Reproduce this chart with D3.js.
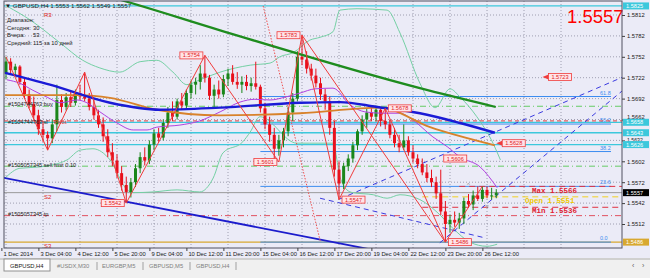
<!DOCTYPE html>
<html><head><meta charset="utf-8">
<script src="https://cdn.jsdelivr.net/npm/d3@7"></script>
<style>body{margin:0;background:#fff}svg{display:block;font-family:"Liberation Sans",Arial,sans-serif}</style>
</head><body><svg id="c" width="650" height="278"></svg>
<script>
// ---------- DATA ----------
const opens=[1.5728,1.5745,1.5733,1.5738,1.5716,1.5698,1.5684,1.5668,1.5648,1.5640,1.5635,1.5655,1.5690,1.5680,1.5694,1.5686,1.5700,1.5695,1.5692,1.5680,1.5668,1.5655,1.5638,1.5615,1.5603,1.5585,1.5568,1.5558,1.5572,1.5592,1.5608,1.5603,1.5626,1.5642,1.5636,1.5657,1.5672,1.5666,1.5688,1.5682,1.5700,1.5712,1.5716,1.5728,1.5722,1.5696,1.5705,1.5698,1.5720,1.5728,1.5716,1.5712,1.5716,1.5710,1.5714,1.5709,1.5678,1.5655,1.5640,1.5620,1.5632,1.5645,1.5672,1.5692,1.5752,1.5748,1.5735,1.5725,1.5714,1.5698,1.5688,1.5650,1.5590,1.5570,1.5595,1.5606,1.5625,1.5645,1.5662,1.5672,1.5666,1.5676,1.5660,1.5655,1.5640,1.5628,1.5622,1.5632,1.5615,1.5606,1.5598,1.5586,1.5578,1.5572,1.5556,1.5530,1.5512,1.5518,1.5514,1.5520,1.5545,1.5540,1.5553,1.5548,1.5561,1.5553,1.5553];
const highs=[1.5752,1.5750,1.5742,1.5740,1.5722,1.5705,1.5695,1.5676,1.5660,1.5645,1.5662,1.5712,1.5698,1.5700,1.5702,1.5705,1.5712,1.5730,1.5700,1.5690,1.5676,1.5665,1.5648,1.5628,1.5612,1.5595,1.5580,1.5578,1.5598,1.5615,1.5622,1.5632,1.5648,1.5650,1.5662,1.5680,1.5688,1.5692,1.5700,1.5705,1.5718,1.5722,1.5740,1.5754,1.5726,1.5712,1.5718,1.5726,1.5735,1.5740,1.5730,1.5724,1.5726,1.5722,1.5745,1.5712,1.5686,1.5666,1.5650,1.5640,1.5650,1.5680,1.5700,1.5760,1.5783,1.5760,1.5742,1.5735,1.5722,1.5706,1.5695,1.5660,1.5602,1.5600,1.5612,1.5630,1.5648,1.5668,1.5678,1.5680,1.5682,1.5678,1.5678,1.5662,1.5650,1.5640,1.5655,1.5638,1.5625,1.5612,1.5606,1.5598,1.5590,1.5580,1.5590,1.5545,1.5525,1.5530,1.5528,1.5550,1.5555,1.5560,1.5566,1.5566,1.5566,1.5564,1.5562];
const lows=[1.5720,1.5728,1.5725,1.5712,1.5692,1.5678,1.5662,1.5640,1.5630,1.5618,1.5628,1.5645,1.5672,1.5675,1.5680,1.5682,1.5690,1.5688,1.5675,1.5662,1.5650,1.5630,1.5608,1.5595,1.5578,1.5560,1.5542,1.5550,1.5565,1.5585,1.5596,1.5598,1.5618,1.5630,1.5632,1.5650,1.5660,1.5662,1.5676,1.5678,1.5692,1.5698,1.5705,1.5715,1.5690,1.5680,1.5692,1.5694,1.5710,1.5712,1.5706,1.5700,1.5704,1.5702,1.5705,1.5672,1.5648,1.5630,1.5601,1.5610,1.5622,1.5638,1.5660,1.5688,1.5740,1.5728,1.5718,1.5708,1.5690,1.5676,1.5640,1.5580,1.5547,1.5562,1.5588,1.5600,1.5618,1.5640,1.5650,1.5660,1.5660,1.5652,1.5648,1.5635,1.5622,1.5615,1.5618,1.5610,1.5600,1.5592,1.5582,1.5572,1.5565,1.5548,1.5525,1.5486,1.5500,1.5508,1.5505,1.5512,1.5535,1.5532,1.5545,1.5544,1.5549,1.5547,1.5549];
const closes=[1.5745,1.5733,1.5738,1.5716,1.5698,1.5684,1.5668,1.5648,1.5640,1.5635,1.5655,1.5690,1.5680,1.5694,1.5686,1.5700,1.5695,1.5692,1.5680,1.5668,1.5655,1.5638,1.5615,1.5603,1.5585,1.5568,1.5558,1.5572,1.5592,1.5608,1.5603,1.5626,1.5642,1.5636,1.5657,1.5672,1.5666,1.5688,1.5682,1.5700,1.5712,1.5716,1.5728,1.5722,1.5696,1.5705,1.5698,1.5720,1.5728,1.5716,1.5712,1.5716,1.5710,1.5714,1.5709,1.5678,1.5655,1.5640,1.5620,1.5632,1.5645,1.5672,1.5692,1.5752,1.5748,1.5735,1.5725,1.5714,1.5698,1.5688,1.5650,1.5590,1.5570,1.5595,1.5606,1.5625,1.5645,1.5662,1.5672,1.5666,1.5676,1.5660,1.5655,1.5640,1.5628,1.5622,1.5632,1.5615,1.5606,1.5598,1.5586,1.5578,1.5572,1.5556,1.5530,1.5512,1.5518,1.5514,1.5520,1.5545,1.5540,1.5553,1.5548,1.5561,1.5553,1.5553,1.5557];

const timeLabels=["1 Dec 2014","3 Dec 04:00","4 Dec 12:00","5 Dec 20:00","9 Dec 04:00","10 Dec 12:00","11 Dec 20:00","15 Dec 04:00","16 Dec 12:00","17 Dec 20:00","19 Dec 04:00","22 Dec 12:00","23 Dec 20:00","26 Dec 12:00"];
const priceTicks=[1.5812,1.5782,1.5752,1.5722,1.5692,1.5662,1.5632,1.5602,1.5572,1.5542,1.5512];

// indicator lines: [bar index, price]
const maBlue=[[-0.2,1.5729],[9.5,1.5712],[22.5,1.5686],[33.3,1.5676],[46.3,1.5679],[63.6,1.5686],[72.2,1.5687],[80.2,1.5680],[89.5,1.5671],[98.2,1.5657],[105.7,1.5643]];
const maOrange=[[-0.2,1.5697],[16,1.5697],[22.5,1.5693],[32.6,1.5676],[46.3,1.5668],[63.6,1.5671],[80.9,1.5679],[91.7,1.5651],[105.7,1.5625]];
const maGreen=[[20.3,1.5842],[24.6,1.5834],[46.3,1.5790],[89.5,1.5707],[105.9,1.5680]];
const maPurple=[[0.2,1.5719],[3,1.5714],[5.8,1.5704],[8.9,1.5694],[11.7,1.5686],[15.4,1.5690],[17.5,1.5686],[20.3,1.5673],[24,1.5657],[27.5,1.5647],[30.5,1.5647],[32.6,1.5651],[37.6,1.5654],[41.9,1.5660],[46.3,1.5673],[50.6,1.5687],[53.8,1.5691],[57.1,1.5690],[60.3,1.5694],[63.6,1.5700],[66.8,1.5706],[70.7,1.5707],[74.4,1.5683],[77.6,1.5673],[81.5,1.5671],[85.2,1.5671],[88,1.5661],[92.3,1.5637],[95.4,1.5623],[98.2,1.5608],[102.5,1.5594],[106.2,1.5564]];
const bbUpper=[[0.4,1.5824],[5.2,1.5805],[11.7,1.5772],[16.6,1.5747],[20.3,1.5736],[24.6,1.5730],[29,1.5745],[32.6,1.5747],[36.1,1.5730],[39.1,1.5712],[41.9,1.5719],[46.3,1.5730],[52.8,1.5740],[57.1,1.5743],[59.2,1.5752],[62.1,1.5758],[65.7,1.5776],[67.9,1.5780],[70.7,1.5788],[72.2,1.5819],[75.9,1.5821],[82.4,1.5819],[85.2,1.5786],[89.5,1.5714],[92.8,1.5679],[96,1.5706],[98.2,1.5694],[101.8,1.5666],[105.3,1.5628],[106.9,1.5604]];
const bbLower=[[-0.2,1.5578],[3,1.5592],[7.4,1.5594],[13.2,1.5604],[16,1.5618],[18.8,1.5620],[22.5,1.5604],[26.2,1.5561],[27.5,1.5557],[31.8,1.5558],[37,1.5561],[41.9,1.5558],[44.8,1.5578],[46.9,1.5614],[51.2,1.5630],[52.8,1.5644],[54.9,1.5666],[62.9,1.5628],[65.7,1.5628],[70.7,1.5628],[72.2,1.5580],[73.7,1.5561],[75,1.5557],[79.4,1.5554],[82.4,1.5549],[85.2,1.5554],[89.5,1.5547],[93.2,1.5529],[96.6,1.5506],[100.3,1.5486],[104,1.5480],[106.2,1.5483]];

const zigzag=[[0,1.5752],[9,1.5618],[17,1.5730],[26,1.5542],[43,1.5754],[59,1.5601],[64,1.5783],[72,1.5547],[82,1.5678],[95,1.5486],[103,1.5566]];
const zigzagLong=[[64,1.5783],[95,1.5486]];
// price tags: text, bar index, price, side
const tags=[["1.5754",43,1.5754,"L"],["1.5783",64,1.5783,"L"],["1.5601",59,1.5601,"L"],["1.5547",72,1.5547,"R"],["1.5542",26,1.5542,"L"],["1.5678",82,1.5678,"R"],["1.5606",94,1.5606,"R"],["1.5486",95,1.5486,"R"],["1.5628",106,1.5628,"P"],["1.5723",116,1.5723,"P"]];

// trend lines [i1,p1,i2,p2]
const trendSolidBlue=[-1,1.5579,80,1.5474];
const trendDashBlue=[[72.2,1.5548,133.4,1.5723],[93.8,1.5485,133.4,1.5704],[67.9,1.5549,103.6,1.5492]];
const trendRedDotted=[55.6,1.5825,68,1.5486];

// horizontal levels
const cyanLevels=[1.5825,1.5658,1.5643,1.5626];
const fibLevels=[1.5695,1.56555,1.5616,1.5566,1.5486];
const fibNames=["61.8","50.0","38.2","23.6","0.0"];
const goldLevel=1.5486, bidLevel=1.5557;
const greenOrderLevels=[1.5681,1.5595];
const pivotLevel=1.5660, tpLevel=1.5524;
const dayMax=1.5566, dayOpen=1.5551, dayMin=1.5536;

// ---------- DRAW ----------
const svg=d3.select("#c");
const L=4,R=622,T=1,B=248;
const x=d3.scaleLinear().domain([0,104]).range([6,487]);
const y=d3.scaleLinear().domain([1.5812,1.5512]).range([15,224]);

svg.append("rect").attr("width",650).attr("height",278).attr("fill","#ebebf7");
svg.append("rect").attr("x",0).attr("y",258).attr("width",650).attr("height",20).attr("fill","#f0f0f0");
svg.append("defs").append("clipPath").attr("id","pc").append("rect").attr("x",L).attr("y",T).attr("width",R-L).attr("height",B-T);
const g=svg.append("g").attr("clip-path","url(#pc)");

// grid
for(let k=1;k<=16;k++){const gx=x(8*k-8);g.append("line").attr("x1",gx).attr("x2",gx).attr("y1",T).attr("y2",B).attr("stroke","#8c8ca0").attr("stroke-dasharray","1,2").attr("stroke-width",0.8);}
priceTicks.forEach(p=>g.append("line").attr("x1",L).attr("x2",R).attr("y1",y(p)).attr("y2",y(p)).attr("stroke","#8c8ca0").attr("stroke-dasharray","1,2").attr("stroke-width",0.8));

const hline=(p,c,w,da,x1=L,x2=R)=>g.append("line").attr("x1",x1).attr("x2",x2).attr("y1",y(p)).attr("y2",y(p)).attr("stroke",c).attr("stroke-width",w).attr("stroke-dasharray",da||null);
cyanLevels.forEach(p=>hline(p,"#3cc8dc",1.3));
hline(goldLevel,"#d8a830",1.3);
hline(bidLevel,"#9a9a9a",1);
fibLevels.forEach((p,k)=>{hline(p,"#3c8cf0",1,null,x(55),611);g.append("text").attr("x",600).attr("y",y(p)-2).attr("font-size",5.5).attr("fill","#3c8cf0").text(fibNames[k]);});
greenOrderLevels.forEach(p=>hline(p,"#66cc66",1,"6,3,1,3"));
hline(pivotLevel,"#e04040",1,"4,3");
hline(tpLevel,"#e05060",1,"6,3,1,3");
hline(dayMax,"#e03040",1,"6,4",x(98),R);
hline(dayOpen,"#f0d020",1,"6,4",x(90),R);
hline(dayMin,"#e03040",1,"6,4",x(90),R);

const line=d3.line().x(d=>x(d[0])).y(d=>y(d[1]));
const curve=d3.line().x(d=>x(d[0])).y(d=>y(d[1])).curve(d3.curveMonotoneX);
const tl=(a,c,w,da)=>g.append("line").attr("x1",x(a[0])).attr("y1",y(a[1])).attr("x2",x(a[2])).attr("y2",y(a[3])).attr("stroke",c).attr("stroke-width",w).attr("stroke-dasharray",da||null);

g.append("path").attr("d",curve(bbUpper)).attr("fill","none").attr("stroke","#74d0a4").attr("stroke-width",1);
g.append("path").attr("d",curve(bbLower)).attr("fill","none").attr("stroke","#74d0a4").attr("stroke-width",1);
tl(trendSolidBlue,"#1c1ccc",1.8);
trendDashBlue.forEach(a=>tl(a,"#3a3ae0",1,"5,4"));
tl(trendRedDotted,"#f05050",1,"1.5,1.5");

// candles
const cw=3;
closes.forEach((c,i)=>{
  const o=opens[i],h=highs[i],l=lows[i];
  const col=c>=o?"#1a861a":"#e8101c";
  g.append("line").attr("x1",x(i)).attr("x2",x(i)).attr("y1",y(h)).attr("y2",y(l)).attr("stroke",col).attr("stroke-width",1);
  const top=y(Math.max(o,c)),bot=y(Math.min(o,c));
  g.append("rect").attr("x",x(i)-cw/2).attr("y",top).attr("width",cw).attr("height",Math.max(1,bot-top)).attr("fill",col);
});

g.append("path").attr("d",curve(maPurple)).attr("fill","none").attr("stroke","#b040e0").attr("stroke-width",1);
g.append("path").attr("d",curve(maOrange)).attr("fill","none").attr("stroke","#d8822a").attr("stroke-width",1.8);
g.append("path").attr("d",curve(maBlue)).attr("fill","none").attr("stroke","#1a1ad6").attr("stroke-width",2.4);
g.append("path").attr("d",curve(maGreen)).attr("fill","none").attr("stroke","#1e8c1e").attr("stroke-width",2.2);

g.append("path").attr("d",line(zigzag)).attr("fill","none").attr("stroke","#f03c3c").attr("stroke-width",1);
g.append("path").attr("d",line(zigzagLong)).attr("fill","none").attr("stroke","#f03c3c").attr("stroke-width",1);

// tags
tags.forEach(([t,i,p,s])=>{
  const px=x(i),py=y(p),w=23,h=7;
  let bx=s==="L"?px-w-2:px+3;
  if(s==="P"){bx=px+6;g.append("path").attr("d",`M${px},${py} L${px+6},${py-2.5} L${px+6},${py+2.5}Z`).attr("fill","#f03c3c");}
  g.append("rect").attr("x",bx).attr("y",py-h/2).attr("width",w).attr("height",h).attr("fill","#ffe4e8").attr("stroke","#f03c3c").attr("stroke-width",0.8);
  g.append("text").attr("x",bx+w/2).attr("y",py+2).attr("text-anchor","middle").attr("font-size",5.6).attr("fill","#e01c1c").text(t);
});

// fractal marks
g.append("text").attr("x",x(100)).attr("y",y(1.5566)+1).attr("font-size",6).attr("fill","#888").attr("text-anchor","middle").text("^");
g.append("text").attr("x",x(104)).attr("y",y(1.5536)+1).attr("font-size",6).attr("fill","#888").attr("text-anchor","middle").text("v");

// texts on chart
const tx=(t,xx,yy,c,fs,fw,ff)=>svg.append("text").attr("x",xx).attr("y",yy).attr("fill",c).attr("font-size",fs).attr("font-weight",fw||null).attr("font-family",ff||null).text(t);
tx("▼ GBPUSD,H4  1.5553  1.5562  1.5549  1.5557",5,8,"#202020",6.2);
tx("R3",44,17,"#e02020",6);
tx("Диапазон:",7,22,"#202020",5.8);
tx("Сегодня:",7,29.5,"#202020",5.8);tx("30",33,29.5,"#202020",5.8);
tx("Вчера:",7,37,"#202020",5.8);tx("53",33,37,"#202020",5.8);
tx("Средний:",7,44.5,"#202020",5.8);tx("115 за 10 дней",33,44.5,"#202020",5.8);
tx("#1504744763 buy",8,106,"#202020",5.6);
tx("#1504744763 sl",8,124,"#202020",5.6);tx("Pivot",54,124,"#e02020",5.6);
tx("#1505057345 sell limit 0.10",8,167,"#202020",5.6);
tx("#1505057345 tp",8,216,"#202020",5.6);
tx("S2",44,199,"#e02020",6);
tx("S3",44,248,"#e02020",6);
tx("1.5557",567,23,"#ff0000",18.5);
tx("Max 1.5566",532,193,"#e02030",7.5,"bold","Liberation Mono");
tx("Open 1.5551",525,203,"#f0c800",7.5,"bold","Liberation Mono");
tx("Min 1.5536",532,213,"#e02030",7.5,"bold","Liberation Mono");

// frame
svg.append("rect").attr("x",L).attr("y",T).attr("width",R-L).attr("height",B-T).attr("fill","none").attr("stroke","#505060").attr("stroke-width",1);

// right axis
const ya=d3.axisRight(y).tickValues(priceTicks).tickSize(3).tickFormat(d3.format(".4f"));
const ga=svg.append("g").attr("transform",`translate(${R},0)`).call(ya);
ga.select(".domain").remove();
ga.selectAll("text").attr("font-size",5.8).attr("fill","#202020").attr("x",5);
ga.selectAll("line").attr("stroke","#404040");
// ticks partly hidden by the level boxes in the reference: nudge so they peek out
ga.selectAll(".tick").filter(d=>d===1.5662).select("text").attr("dy","-0.25em");
ga.selectAll(".tick").filter(d=>d===1.5632).select("text").attr("font-size",5.2).attr("dy","0.15em");

// axis boxes
const boxes=[[1.5825,"#3cc8dc","#fff"],[1.5658,"#3cc8dc","#fff"],[1.5643,"#3cc8dc","#fff"],[1.5626,"#3cc8dc","#fff"],[1.5557,"#000","#fff"],[1.5486,"#d8a830","#fff"]];
boxes.forEach(([p,bg,fg])=>{
  svg.append("rect").attr("x",R+1).attr("y",y(p)-3.5).attr("width",26).attr("height",7).attr("fill",bg);
  svg.append("text").attr("x",R+4).attr("y",y(p)+2).attr("font-size",5.6).attr("fill",fg).text(p.toFixed(4));
});

// time axis
const tIdx=timeLabels.map((d,k)=>k*8-1);
const xa=d3.axisBottom(x).tickValues(tIdx).tickSize(3).tickFormat((d,k)=>timeLabels[k]);
const gx=svg.append("g").attr("transform",`translate(0,${B})`).call(xa);
gx.select(".domain").remove();
gx.selectAll("text").attr("text-anchor","start").attr("x",1.5).attr("y",4).attr("dy","0.71em").attr("font-size",5.8).attr("fill","#202020");
gx.selectAll("line").attr("stroke","#404040");

// tabs
svg.append("line").attr("x1",0).attr("x2",650).attr("y1",259).attr("y2",259).attr("stroke","#b0b0b0");
svg.append("rect").attr("x",4).attr("y",259).attr("width",46).attr("height",12).attr("fill","#fff").attr("stroke","#909090");
const tabs=[["GBPUSD,H4",10,"#202020"],["#USDX,M30",57,"#808080"],["EURGBP,M5",102,"#808080"],["GBPUSD,M5",149,"#808080"],["GBPUSD,H4",196,"#808080"]];
tabs.forEach(([t,xx,c])=>tx(t,xx,268,c,5.8));
[97,143,190,236].forEach(xx=>svg.append("line").attr("x1",xx).attr("x2",xx).attr("y1",262).attr("y2",270).attr("stroke","#a0a0a0"));
tx("‹",632,268,"#606060",7);tx("›",642,268,"#606060",7);
</script></body></html>
